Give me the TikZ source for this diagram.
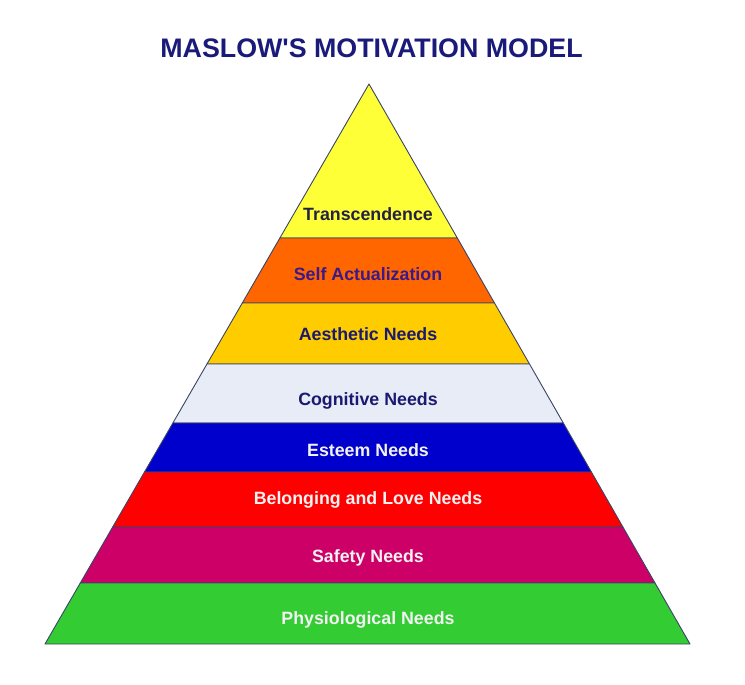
\documentclass[tikz,border=0pt]{standalone}
\usepackage{fontspec}
\setmainfont{Liberation Sans}
\definecolor{titleblue}{HTML}{1A1A7A}
\definecolor{edgecol}{HTML}{3A4466}
\definecolor{cTrans}{HTML}{FFFF38}
\definecolor{cSelf}{HTML}{FF6600}
\definecolor{cAest}{HTML}{FFCC00}
\definecolor{cCog}{HTML}{E8ECF6}
\definecolor{cEst}{HTML}{0000CC}
\definecolor{cBel}{HTML}{FF0000}
\definecolor{cSaf}{HTML}{CC0066}
\definecolor{cPhy}{HTML}{33CC33}
\definecolor{tDark}{HTML}{222244}
\definecolor{tPurple}{HTML}{3A1A8A}
\definecolor{tNavy}{HTML}{1A1A70}
\definecolor{tLight}{HTML}{F2F2F2}
\tikzset{
  band/.style={draw=edgecol, line width=0.9pt, line join=round},
  lbl/.style={font=\fontsize{17.8}{20}\selectfont\bfseries, inner sep=0pt, anchor=center},
}
\begin{document}
\begin{tikzpicture}[x=1pt,y=-1pt]
\useasboundingbox (0,0) rectangle (745,685);
\fill[white] (0,0) rectangle (745,685);
% bands
\filldraw[band, fill=cTrans] (369,84) -- (457.3,238) -- (279.9,238) -- cycle;
\filldraw[band, fill=cSelf] (279.9,238) -- (457.3,238) -- (494.5,303) -- (242.3,303) -- cycle;
\filldraw[band, fill=cAest] (242.3,303) -- (494.5,303) -- (529.5,364) -- (207,364) -- cycle;
\filldraw[band, fill=cCog] (207,364) -- (529.5,364) -- (563.3,423) -- (172.9,423) -- cycle;
\filldraw[band, fill=cEst] (172.9,423) -- (563.3,423) -- (591.4,472) -- (144.5,472) -- cycle;
\filldraw[band, fill=cBel] (144.5,472) -- (591.4,472) -- (622.9,527) -- (112.7,527) -- cycle;
\filldraw[band, fill=cSaf] (112.7,527) -- (622.9,527) -- (655,583) -- (80.3,583) -- cycle;
\filldraw[band, fill=cPhy] (80.3,583) -- (655,583) -- (690,644) -- (45,644) -- cycle;
% title
\node[font=\fontsize{26.8}{30}\selectfont\bfseries, text=titleblue, inner sep=0pt] (title) at (371.5,48) {MASLOW\textquotesingle S MOTIVATION MODEL};
% labels
\node[lbl, text=tDark] (trans) at (368,214) {Transcendence};
\node[lbl, text=tPurple] (self) at (368,274.5) {Self Actualization};
\node[lbl, text=tNavy] (aest) at (368,334.5) {Aesthetic Needs};
\node[lbl, text=tNavy] (cog) at (368,400.5) {Cognitive Needs};
\node[lbl, text=tLight] (est) at (368,450.5) {Esteem Needs};
\node[lbl, text=tLight] (bel) at (368,499.5) {Belonging and Love Needs};
\node[lbl, text=tLight] (saf) at (368,557.5) {Safety Needs};
\node[lbl, text=tLight] (phy) at (368,619.5) {Physiological Needs};
\end{tikzpicture}
\end{document}
